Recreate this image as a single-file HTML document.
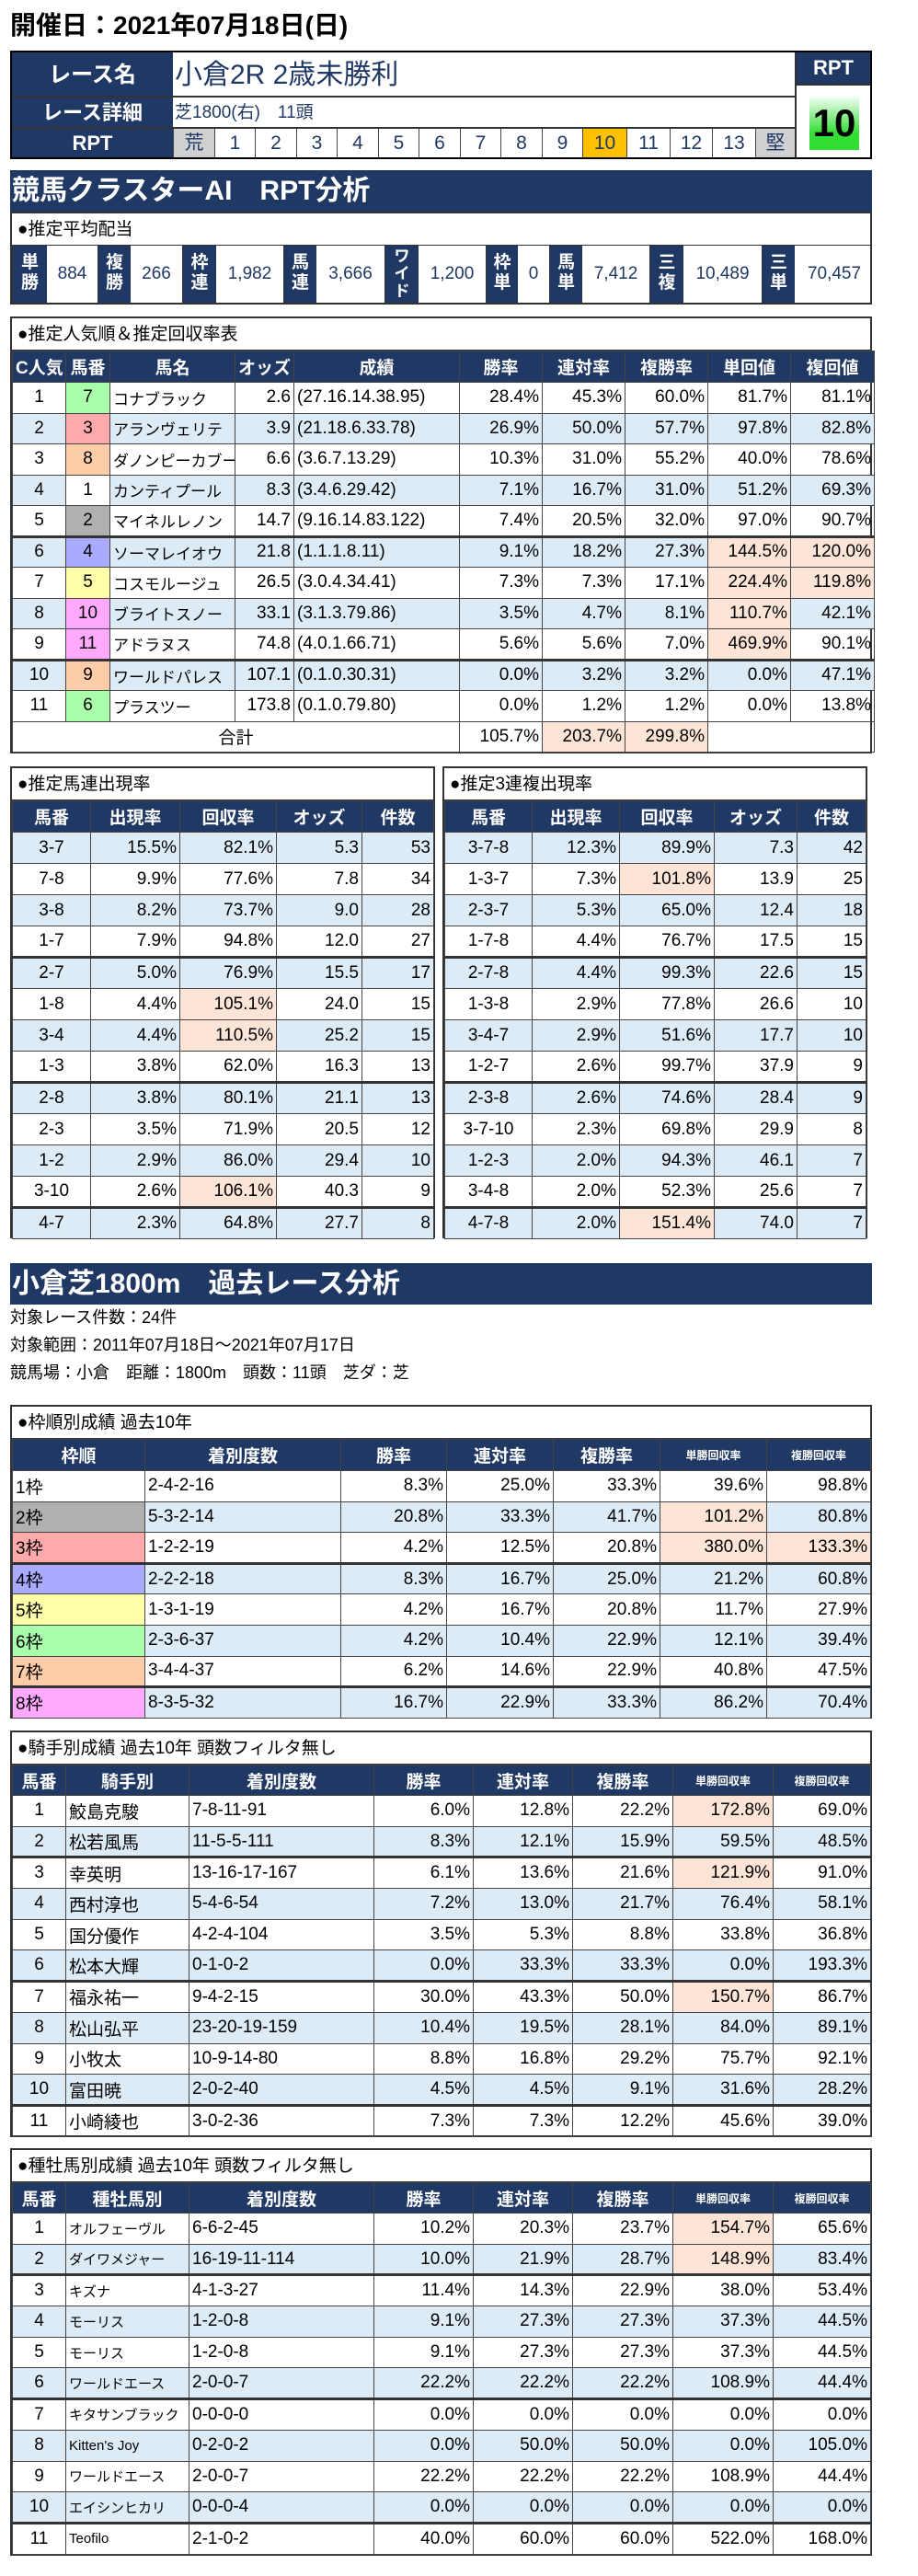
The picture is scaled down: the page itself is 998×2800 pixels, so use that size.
<!DOCTYPE html>
<html><head><meta charset="utf-8">
<style>
*{box-sizing:border-box;margin:0;padding:0}
body{width:998px;height:2800px;background:#fff;position:relative;overflow:hidden;font-family:"Liberation Sans","DejaVu Sans","Noto Sans CJK JP",sans-serif;color:#000}
.abs{position:absolute}
.bar{position:absolute;left:11px;width:937px;height:45px;background:#203864;color:#fff;font-weight:bold;font-size:30px;line-height:45px;padding-left:2px;white-space:pre}
.box{position:absolute;border:2px solid #333;background:#fff}
.cap{height:35px;line-height:35px;font-size:19px;padding-left:6px;border-bottom:1px solid #333;white-space:nowrap}
table{border-collapse:collapse;table-layout:fixed;width:100%}
td,th{border:1px solid #444;font-size:19px;white-space:nowrap;overflow:hidden;padding:0 3px}
th{background:#203864;color:#fff;font-weight:bold;text-align:center;font-size:19px}
th.sm{font-size:12px}
td.r{text-align:right}
td.c{text-align:center}
td.l{text-align:left}
tr.alt td{background:#DDEBF7}
td.hl{background:#FCE4D6 !important}
tr.thick td{border-top:3px solid #333}
.hdr td{border:1px solid #333}
</style></head><body>
<div class="abs" style="left:11px;top:8px;font-size:28px;font-weight:bold;line-height:40px">開催日：2021年07月18日(日)</div>

<div class="abs" style="left:11px;top:55px;width:937px;height:118px;border:2px solid #000">
 <div class="abs" style="left:0;top:0;width:175px;height:49px;background:#203864;color:#fff;font-weight:bold;font-size:24px;text-align:center;line-height:49px;border-bottom:2px solid #333">レース名</div>
 <div class="abs" style="left:175px;top:0;width:676px;height:49px;font-size:30px;line-height:49px;padding-left:2px;color:#203864;border-bottom:2px solid #333">小倉2R 2歳未勝利</div>
 <div class="abs" style="left:0;top:49px;width:175px;height:34px;background:#203864;color:#fff;font-weight:bold;font-size:22px;text-align:center;line-height:34px;border-bottom:2px solid #333">レース詳細</div>
 <div class="abs" style="left:175px;top:49px;width:676px;height:34px;font-size:19px;line-height:34px;padding-left:2px;color:#203864;border-bottom:2px solid #333;white-space:pre">芝1800(右)　11頭</div>
 <div class="abs" style="left:0;top:83px;width:175px;height:31px;background:#203864;color:#fff;font-weight:bold;font-size:22px;text-align:center;line-height:31px">RPT</div>
 <div class="abs" id="rptscale" style="left:175px;top:83px;width:676px;height:31px"></div>
 <div class="abs" style="left:851px;top:0;width:82px;height:34px;background:#203864;color:#fff;font-weight:bold;font-size:22px;text-align:center;line-height:34px;border-left:2px solid #333">RPT</div>
 <div class="abs" style="left:851px;top:34px;width:82px;height:80px;border-left:2px solid #333;border-top:2px solid #333">
  <div class="abs" style="left:14px;top:10px;width:54px;height:60px;background:linear-gradient(#fff,#33DD33 70%);font-size:42px;font-weight:bold;text-align:center;line-height:62px">10</div>
 </div>
</div>

<div class="bar" style="top:185px">競馬クラスターAI　RPT分析</div>

<div class="box" style="left:11px;top:230px;width:937px;height:101px">
 <div class="cap">●推定平均配当</div>
 <div id="payout" class="abs" style="left:0;top:35px;width:933px;height:62px"></div>
</div>

<div class="box" id="box1" style="left:11px;top:344px;width:937px;height:475px"><div class="cap">●推定人気順＆推定回収率表</div></div>
<div class="box" id="box2" style="left:11px;top:833px;width:462px;height:513px"><div class="cap">●推定馬連出現率</div></div>
<div class="box" id="box3" style="left:481px;top:833px;width:462px;height:513px"><div class="cap">●推定3連複出現率</div></div>

<div class="bar" style="top:1373px">小倉芝1800m　過去レース分析</div>
<div class="abs" style="left:11px;top:1420px;font-size:18px;line-height:24px">対象レース件数：24件</div>
<div class="abs" style="left:11px;top:1450px;font-size:18px;line-height:24px">対象範囲：2011年07月18日～2021年07月17日</div>
<div class="abs" style="left:11px;top:1480px;font-size:18px;line-height:24px;white-space:pre">競馬場：小倉　距離：1800m　頭数：11頭　芝ダ：芝</div>

<div class="box" id="box4" style="left:11px;top:1527px;width:937px;height:341px"><div class="cap">●枠順別成績 過去10年</div></div>
<div class="box" id="box5" style="left:11px;top:1881px;width:937px;height:442px"><div class="cap">●騎手別成績 過去10年 頭数フィルタ無し</div></div>
<div class="box" id="box6" style="left:11px;top:2335px;width:937px;height:443px"><div class="cap">●種牡馬別成績 過去10年 頭数フィルタ無し</div></div>

<script>
const rptLabels=["荒","1","2","3","4","5","6","7","8","9","10","11","12","13","堅"];
const rptWidths=[45,44,45,44,45,44,45,44,45,44,48,47,46,47,43];
const payLabels=["単勝","複勝","枠連","馬連","ワイド","枠単","馬単","三複","三単"];
const payValues=["884","266","1,982","3,666","1,200","0","7,412","10,489","70,457"];
const payLW=[38,36,37,36,37,35,36,37,36];
const payVW=[55,56,73,74,73,34,73,85,86];

const frameColors={1:"#ffffff",2:"#B0B0B0",3:"#FFAAAA",4:"#AAAAFF",5:"#FFFFAA",6:"#AAFFAA",7:"#FFCCAA",8:"#FFAAFF"};
function frameOf(n){const m={1:1,2:2,3:3,4:4,5:5,6:6,7:6,8:7,9:7,10:8,11:8};return m[n];}

// table 1
const t1Cols=[58,48,136,64,180,90,90,90,90,91];
const t1Head=["C人気","馬番","馬名","オッズ","成績","勝率","連対率","複勝率","単回値","複回値"];
const t1Rank=["1","2","3","4","5","6","7","8","9","10","11"];
const t1Num=[7,3,8,1,2,4,5,10,11,9,6];
const t1Name=["コナブラック","アランヴェリテ","ダノンピーカブー","カンティプール","マイネルレノン","ソーマレイオウ","コスモルージュ","ブライトスノー","アドラヌス","ワールドパレス","プラスツー"];
const t1Odds=["2.6","3.9","6.6","8.3","14.7","21.8","26.5","33.1","74.8","107.1","173.8"];
const t1Rec=["(27.16.14.38.95)","(21.18.6.33.78)","(3.6.7.13.29)","(3.4.6.29.42)","(9.16.14.83.122)","(1.1.1.8.11)","(3.0.4.34.41)","(3.1.3.79.86)","(4.0.1.66.71)","(0.1.0.30.31)","(0.1.0.79.80)"];
const t1Win=["28.4%","26.9%","10.3%","7.1%","7.4%","9.1%","7.3%","3.5%","5.6%","0.0%","0.0%"];
const t1Ren=["45.3%","50.0%","31.0%","16.7%","20.5%","18.2%","7.3%","4.7%","5.6%","3.2%","1.2%"];
const t1Fuku=["60.0%","57.7%","55.2%","31.0%","32.0%","27.3%","17.1%","8.1%","7.0%","3.2%","1.2%"];
const t1TanR=["81.7%","97.8%","40.0%","51.2%","97.0%","144.5%","224.4%","110.7%","469.9%","0.0%","0.0%"];
const t1FukR=["81.1%","82.8%","78.6%","69.3%","90.7%","120.0%","119.8%","42.1%","90.1%","47.1%","13.8%"];

const t2Cols=[85,97,105,93,78];
const t2Head=["馬番","出現率","回収率","オッズ","件数"];
const t2Comb=["3-7","7-8","3-8","1-7","2-7","1-8","3-4","1-3","2-8","2-3","1-2","3-10","4-7"];
const t2Rate=["15.5%","9.9%","8.2%","7.9%","5.0%","4.4%","4.4%","3.8%","3.8%","3.5%","2.9%","2.6%","2.3%"];
const t2Ret=["82.1%","77.6%","73.7%","94.8%","76.9%","105.1%","110.5%","62.0%","80.1%","71.9%","86.0%","106.1%","64.8%"];
const t2Odds=["5.3","7.8","9.0","12.0","15.5","24.0","25.2","16.3","21.1","20.5","29.4","40.3","27.7"];
const t2Cnt=["53","34","28","27","17","15","15","13","13","12","10","9","8"];

const t3Cols=[95,95,103,90,75];
const t3Comb=["3-7-8","1-3-7","2-3-7","1-7-8","2-7-8","1-3-8","3-4-7","1-2-7","2-3-8","3-7-10","1-2-3","3-4-8","4-7-8"];
const t3Rate=["12.3%","7.3%","5.3%","4.4%","4.4%","2.9%","2.9%","2.6%","2.6%","2.3%","2.0%","2.0%","2.0%"];
const t3Ret=["89.9%","101.8%","65.0%","76.7%","99.3%","77.8%","51.6%","99.7%","74.6%","69.8%","94.3%","52.3%","151.4%"];
const t3Odds=["7.3","13.9","12.4","17.5","22.6","26.6","17.7","37.9","28.4","29.9","46.1","25.6","74.0"];
const t3Cnt=["42","25","18","15","15","10","10","9","9","8","7","7","7"];

const t4Cols=[144,213,115,116,116,116,113];
const t4Head=["枠順","着別度数","勝率","連対率","複勝率","単勝回収率","複勝回収率"];
const t4Rec=["2-4-2-16","5-3-2-14","1-2-2-19","2-2-2-18","1-3-1-19","2-3-6-37","3-4-4-37","8-3-5-32"];
const t4Win=["8.3%","20.8%","4.2%","8.3%","4.2%","4.2%","6.2%","16.7%"];
const t4Ren=["25.0%","33.3%","12.5%","16.7%","16.7%","10.4%","14.6%","22.9%"];
const t4Fuku=["33.3%","41.7%","20.8%","25.0%","20.8%","22.9%","22.9%","33.3%"];
const t4Tan=["39.6%","101.2%","380.0%","21.2%","11.7%","12.1%","40.8%","86.2%"];
const t4FukR=["98.8%","80.8%","133.3%","60.8%","27.9%","39.4%","47.5%","70.4%"];

const t5Cols=[58,134,201,108,108,109,109,106];
const t5Head=["馬番","騎手別","着別度数","勝率","連対率","複勝率","単勝回収率","複勝回収率"];
const t5Name=["鮫島克駿","松若風馬","幸英明","西村淳也","国分優作","松本大輝","福永祐一","松山弘平","小牧太","富田暁","小崎綾也"];
const t5Rec=["7-8-11-91","11-5-5-111","13-16-17-167","5-4-6-54","4-2-4-104","0-1-0-2","9-4-2-15","23-20-19-159","10-9-14-80","2-0-2-40","3-0-2-36"];
const t5Win=["6.0%","8.3%","6.1%","7.2%","3.5%","0.0%","30.0%","10.4%","8.8%","4.5%","7.3%"];
const t5Ren=["12.8%","12.1%","13.6%","13.0%","5.3%","33.3%","43.3%","19.5%","16.8%","4.5%","7.3%"];
const t5Fuku=["22.2%","15.9%","21.6%","21.7%","8.8%","33.3%","50.0%","28.1%","29.2%","9.1%","12.2%"];
const t5Tan=["172.8%","59.5%","121.9%","76.4%","33.8%","0.0%","150.7%","84.0%","75.7%","31.6%","45.6%"];
const t5FukR=["69.0%","48.5%","91.0%","58.1%","36.8%","193.3%","86.7%","89.1%","92.1%","28.2%","39.0%"];

const t6Head=["馬番","種牡馬別","着別度数","勝率","連対率","複勝率","単勝回収率","複勝回収率"];
const t6Name=["オルフェーヴル","ダイワメジャー","キズナ","モーリス","モーリス","ワールドエース","キタサンブラック","Kitten's Joy","ワールドエース","エイシンヒカリ","Teofilo"];
const t6Rec=["6-6-2-45","16-19-11-114","4-1-3-27","1-2-0-8","1-2-0-8","2-0-0-7","0-0-0-0","0-2-0-2","2-0-0-7","0-0-0-4","2-1-0-2"];
const t6Win=["10.2%","10.0%","11.4%","9.1%","9.1%","22.2%","0.0%","0.0%","22.2%","0.0%","40.0%"];
const t6Ren=["20.3%","21.9%","14.3%","27.3%","27.3%","22.2%","0.0%","50.0%","22.2%","0.0%","60.0%"];
const t6Fuku=["23.7%","28.7%","22.9%","27.3%","27.3%","22.2%","0.0%","50.0%","22.2%","0.0%","60.0%"];
const t6Tan=["154.7%","148.9%","38.0%","37.3%","37.3%","108.9%","0.0%","0.0%","108.9%","0.0%","522.0%"];
const t6FukR=["65.6%","83.4%","53.4%","44.5%","44.5%","44.4%","0.0%","105.0%","44.4%","0.0%","168.0%"];

function pct(s){return parseFloat(s);}

// RPT scale
const rs=document.getElementById('rptscale');
let rx=0;
rptLabels.forEach((t,i)=>{
  const d=document.createElement('div');
  
  
  const bg=(i===0||i===14)?'#D0D0D0':(t==='10'?'#FFC000':'#fff');
  d.style.cssText=`position:absolute;left:${rx}px;top:0;width:${rptWidths[i]}px;height:31px;border-left:1px solid #444;background:${bg};color:#203864;font-size:21px;text-align:center;line-height:31px`;
  d.textContent=t;rs.appendChild(d);rx+=rptWidths[i];
});

// payout
const pr=document.getElementById('payout');
let px=0;
payLabels.forEach((t,i)=>{
  const l=document.createElement('div');
  
  
  l.style.cssText=`position:absolute;left:${px}px;top:0;width:${payLW[i]}px;height:62px;background:#203864;color:#fff;font-weight:bold;font-size:${t.length>2?17:19}px;line-height:${t.length>2?19:22}px;text-align:center;padding-top:${t.length>2?2:8}px;border-left:1px solid #333`;
  l.innerHTML=t.split('').join('<br>');pr.appendChild(l);px+=payLW[i];
  const v=document.createElement('div');
  
  
  v.style.cssText=`position:absolute;left:${px}px;top:0;width:${payVW[i]}px;height:62px;font-size:19px;line-height:62px;text-align:center;color:#203864`;
  v.textContent=payValues[i];pr.appendChild(v);px+=payVW[i];
});

function build(boxId,name,cols,head,rows,headH,rowH,thickAfter,smallHead){
  const box=document.getElementById(boxId);
  const tb=document.createElement('table');
  
  
  const cg=document.createElement('colgroup');
  cols.forEach(w=>{const c=document.createElement('col');c.style.width=w+'px';cg.appendChild(c);});
  tb.appendChild(cg);
  const hr=document.createElement('tr');
  hr.style.height=headH+'px';
  head.forEach((h,j)=>{
    const th=document.createElement('th');
    
    
    if(h.length>=5)th.className='sm';
    th.textContent=h;hr.appendChild(th);
  });
  tb.appendChild(hr);
  rows.forEach((r,i)=>{
    const tr=document.createElement('tr');
    
    
    tr.style.height=rowH+'px';
    let cls=[];
    if(i%2===(r.altParity||0))cls.push('alt');
    if(thickAfter.includes(i))cls.push('thick');
    tr.className=cls.join(' ');
    r.cells.forEach(c=>{
      const td=document.createElement('td');
      
      
      td.className=(c.a||'r')+(c.hl?' hl':'');
      if(c.bg)td.style.background=c.bg;
      if(c.fs)td.style.fontSize=c.fs+'px';
      td.textContent=c.t;tr.appendChild(td);
    });
    tb.appendChild(tr);
  });
  if(arguments[9]){const f=arguments[9];tb.appendChild(f);}
  box.appendChild(tb);
}

// table1 rows
const r1=t1Rank.map((k,i)=>({altParity:1,cells:[
 {t:k,a:'c'},{t:String(t1Num[i]),a:'c',bg:frameColors[frameOf(t1Num[i])]},{t:t1Name[i],a:'l',fs:17},
 {t:t1Odds[i]},{t:t1Rec[i],a:'l'},{t:t1Win[i]},{t:t1Ren[i]},{t:t1Fuku[i]},
 {t:t1TanR[i],hl:pct(t1TanR[i])>=100},{t:t1FukR[i],hl:pct(t1FukR[i])>=100}]}));
const foot=document.createElement('tr');


foot.style.height='33px';
foot.innerHTML='<td colspan="5" class="c">合計</td><td class="r">105.7%</td><td class="r hl">203.7%</td><td class="r hl">299.8%</td><td colspan="2"></td>';
build('box1','popularity-table',t1Cols,t1Head,r1,34,33.5,[5,9],false,foot);

const r2=t2Comb.map((k,i)=>({altParity:0,cells:[{t:k,a:'c'},{t:t2Rate[i]},{t:t2Ret[i],hl:pct(t2Ret[i])>=100},{t:t2Odds[i]},{t:t2Cnt[i]}]}));
build('box2','umaren-table',t2Cols,t2Head,r2,34,34,[4,8,12]);
const r3=t3Comb.map((k,i)=>({altParity:0,cells:[{t:k,a:'c'},{t:t3Rate[i]},{t:t3Ret[i],hl:pct(t3Ret[i])>=100},{t:t3Odds[i]},{t:t3Cnt[i]}]}));
build('box3','sanrenpuku-table',t3Cols,t2Head,r3,34,34,[4,8,12]);

const r4=t4Rec.map((k,i)=>({altParity:1,cells:[{t:(i+1)+'枠',a:'l',bg:frameColors[i+1]},{t:k,a:'l'},{t:t4Win[i]},{t:t4Ren[i]},{t:t4Fuku[i]},{t:t4Tan[i],hl:pct(t4Tan[i])>=100},{t:t4FukR[i],hl:pct(t4FukR[i])>=100}]}));
build('box4','frame-table',t4Cols,t4Head,r4,34,33.6,[3,7]);

const r5=t5Name.map((k,i)=>({altParity:1,cells:[{t:String(i+1),a:'c'},{t:k,a:'l'},{t:t5Rec[i],a:'l'},{t:t5Win[i]},{t:t5Ren[i]},{t:t5Fuku[i]},{t:t5Tan[i],hl:pct(t5Tan[i])>=100},{t:t5FukR[i]}]}));
build('box5','jockey-table',t5Cols,t5Head,r5,33,33.7,[2,6,10]);

const r6=t6Name.map((k,i)=>({altParity:1,cells:[{t:String(i+1),a:'c'},{t:k,a:'l',fs:15},{t:t6Rec[i],a:'l'},{t:t6Win[i]},{t:t6Ren[i]},{t:t6Fuku[i]},{t:t6Tan[i],hl:(i<2)},{t:t6FukR[i]}]}));
build('box6','sire-table',t5Cols,t6Head,r6,33,33.7,[2,6,10]);
</script>
</body></html>
